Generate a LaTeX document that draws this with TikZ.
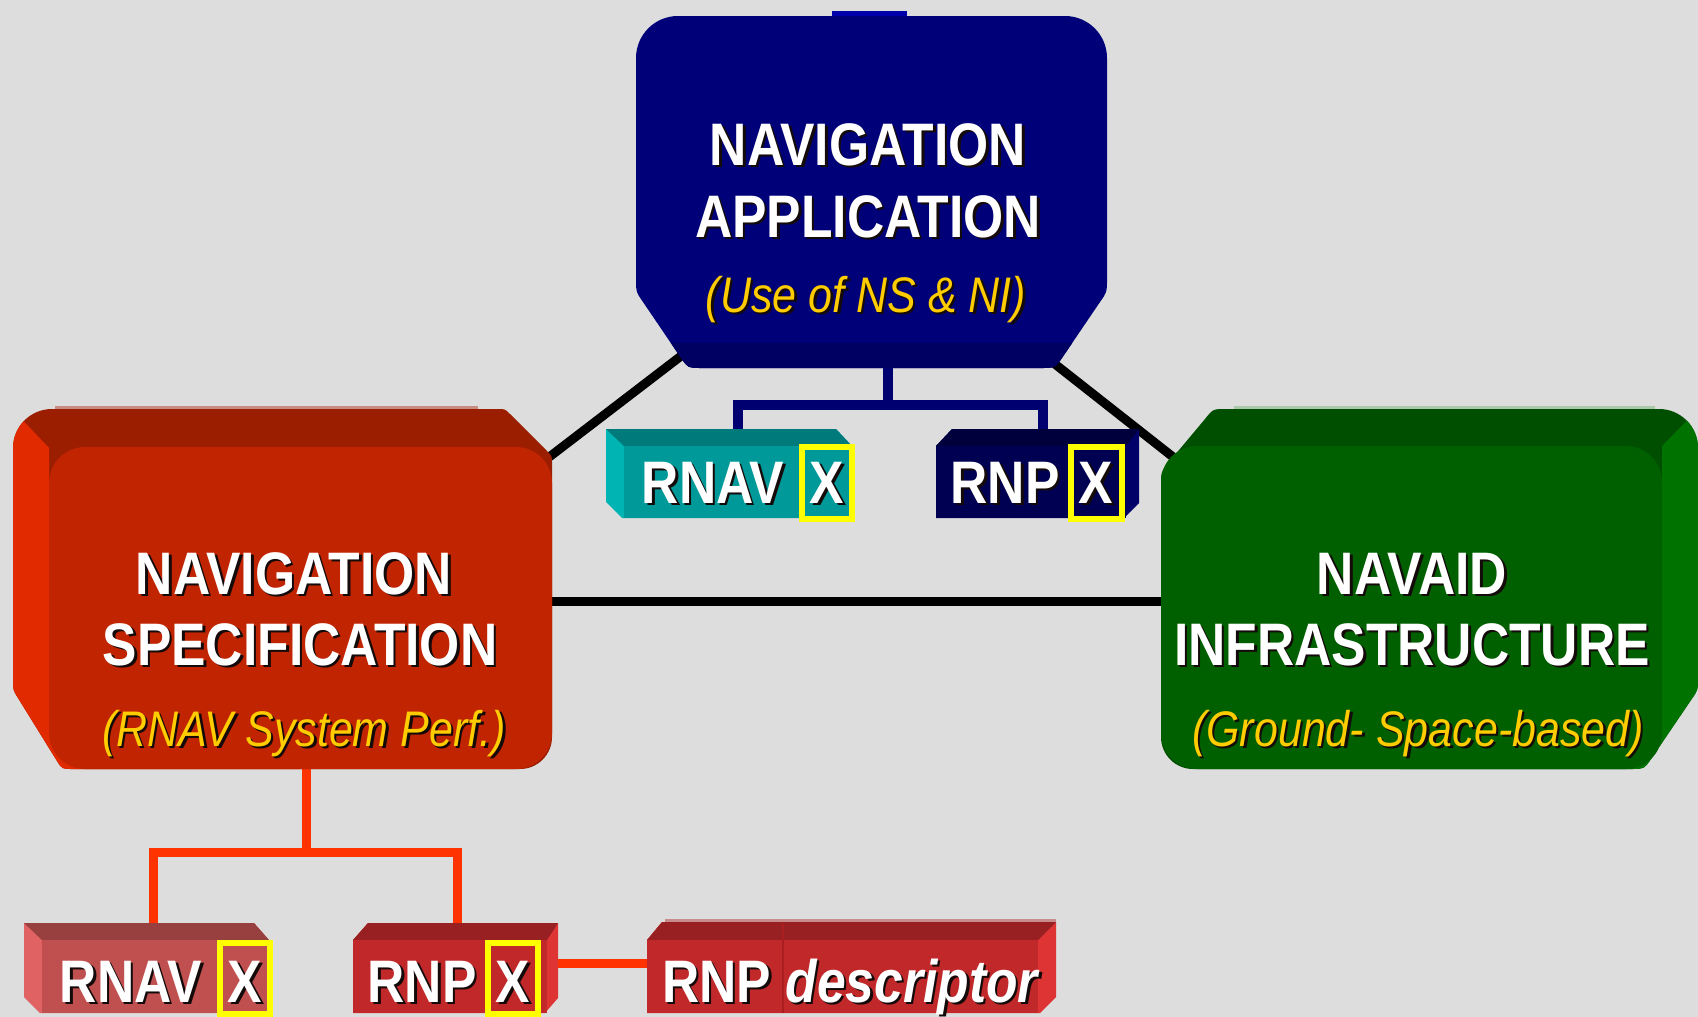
\documentclass[tikz,border=0pt]{standalone}
\usepackage{fontspec}
\setmainfont{Liberation Sans}[FakeStretch=0.86]
\definecolor{colBG}{RGB}{221,221,221}
\definecolor{colNA}{RGB}{0,0,120}
\definecolor{colNAb}{RGB}{0,0,98}
\definecolor{colNAtab}{RGB}{0,0,170}
\definecolor{colRF}{RGB}{192,36,0}
\definecolor{colRT}{RGB}{155,30,0}
\definecolor{colRS}{RGB}{226,42,0}
\definecolor{colRH}{RGB}{200,140,130}
\definecolor{colGF}{RGB}{0,96,0}
\definecolor{colGT}{RGB}{0,78,0}
\definecolor{colGS}{RGB}{0,114,0}
\definecolor{colGH}{RGB}{170,200,170}
\definecolor{colTF}{RGB}{0,153,153}
\definecolor{colTT}{RGB}{0,122,122}
\definecolor{colTS}{RGB}{0,180,180}
\definecolor{colDF}{RGB}{0,0,82}
\definecolor{colDT}{RGB}{0,0,60}
\definecolor{colDS}{RGB}{0,0,105}
\definecolor{colLF}{RGB}{192,80,80}
\definecolor{colLT}{RGB}{152,64,64}
\definecolor{colLS}{RGB}{224,98,98}
\definecolor{colPF}{RGB}{192,40,42}
\definecolor{colPT}{RGB}{152,32,34}
\definecolor{colPS}{RGB}{222,52,52}
\definecolor{colPD}{RGB}{170,30,32}
\definecolor{colPH}{RGB}{200,140,140}
\definecolor{colYel}{RGB}{255,255,0}
\definecolor{colSub}{RGB}{255,204,0}
\definecolor{colShd}{RGB}{20,10,10}
\definecolor{colBcon}{RGB}{0,0,112}
\definecolor{colRcon}{RGB}{255,51,0}

\newcommand\txtsh[1]{\leavevmode\rlap{\kern2.5pt\raisebox{-2.5pt}{\textcolor{colShd}{#1}}}#1}

\tikzset{
 lblbig/.style={font=\fontsize{60}{60}\selectfont\bfseries, text=white, inner sep=0pt, anchor=base},
 lblsub/.style={font=\fontsize{50}{50}\selectfont\itshape, text=colSub, inner sep=0pt, anchor=base},
 blackcon/.style={draw=black, line width=9pt},
 bluecon/.style={draw=colBcon, line width=10pt},
 redcon/.style={draw=colRcon, line width=9pt},
 xbox/.style={draw=colYel, line width=6pt},
}

\begin{document}
\begin{tikzpicture}[x=1pt,y=-1pt]
\fill[colBG] (0,0) rectangle (1698,1017);
\useasboundingbox (0,0) rectangle (1698,1017);

% attachment points
\coordinate (naSW) at (698,343);
\coordinate (nsNE) at (514,484);
\coordinate (naSE) at (1032,346);
\coordinate (niNW) at (1201,479);
\coordinate (nsE) at (540,601);
\coordinate (niW) at (1170,601);
\coordinate (naB) at (888,360);
\coordinate (naJ) at (888,405);
\coordinate (rnavT) at (738,440);
\coordinate (rnpT) at (1043,440);
\coordinate (nsB) at (306,760);
\coordinate (nsJ) at (306,852);
\coordinate (brnavT) at (153,935);
\coordinate (brnpT) at (457,935);
\coordinate (brnpR) at (530,963);
\coordinate (descL) at (655,963);

% connectors
\draw[blackcon] (naSW) -- (nsNE);
\draw[blackcon] (naSE) -- (niNW);
\draw[blackcon] (nsE) -- (niW);
\draw[bluecon] (naB) -- (naJ) -| (rnavT);
\draw[bluecon] (naJ) -| (rnpT);
\draw[redcon] (nsB) -- (nsJ) -| (brnavT);
\draw[redcon] (nsJ) -| (brnpT);
\draw[redcon] (brnpR) -- (descL);

% NAVIGATION APPLICATION box
\fill[colNAtab] (832,11) rectangle (907,18);
\fill[colNA] (871,368) -- (700,368) .. controls (688,368) .. (681,358) -- (643,302) .. controls (636,292) .. (636,280) -- (636,58) arc (180:270:42) -- (1065,16) arc (270:360:42) -- (1107,280) .. controls (1107,292) .. (1100,302) -- (1062,358) .. controls (1055,368) .. (1043,368) -- cycle;
\begin{scope}
\clip (871,368) -- (700,368) .. controls (688,368) .. (681,358) -- (643,302) .. controls (636,292) .. (636,280) -- (636,58) arc (180:270:42) -- (1065,16) arc (270:360:42) -- (1107,280) .. controls (1107,292) .. (1100,302) -- (1062,358) .. controls (1055,368) .. (1043,368) -- cycle;
\fill[colNAb] (600,343) rectangle (1150,380);
\end{scope}

% NAVIGATION SPECIFICATION box
\fill[colRT] (300,769) -- (72,769) .. controls (62,769) .. (57,761) -- (18,698) .. controls (13,690) .. (13,680) -- (13,448) arc (180:270:39) -- (498,409) .. controls (505,409) .. (510,414) -- (547,451) .. controls (552,456) .. (552,463) -- (552,737) arc (0:90:32) -- cycle;
\begin{scope}
\clip (300,769) -- (72,769) .. controls (62,769) .. (57,761) -- (18,698) .. controls (13,690) .. (13,680) -- (13,448) arc (180:270:39) -- (498,409) .. controls (505,409) .. (510,414) -- (547,451) .. controls (552,456) .. (552,463) -- (552,737) arc (0:90:32) -- cycle;
\fill[colRS] (49,448) -- (0,396) -- (0,800) -- (300,800) -- (300,700) -- (49,700) -- cycle;
\end{scope}
\fill[colRF, rounded corners=36pt] (49,447) rectangle (552,769);
\draw[colRH, line width=3pt] (55,407) -- (478,407);

% NAVAID INFRASTRUCTURE box
\fill[colGT] (1400,769) -- (1193,769) arc (90:180:32) -- (1161,485) .. controls (1161,472) .. (1169,462) -- (1205,419) .. controls (1213,409) .. (1226,409) -- (1659,409) arc (270:360:39) -- (1698,678) .. controls (1698,690) .. (1691,700) -- (1651,759) .. controls (1644,769) .. (1632,769) -- cycle;
\begin{scope}
\clip (1400,769) -- (1193,769) arc (90:180:32) -- (1161,485) .. controls (1161,472) .. (1169,462) -- (1205,419) .. controls (1213,409) .. (1226,409) -- (1659,409) arc (270:360:39) -- (1698,678) .. controls (1698,690) .. (1691,700) -- (1651,759) .. controls (1644,769) .. (1632,769) -- cycle;
\fill[colGS] (1662,446) -- (1711,396) -- (1711,800) -- (1400,800) -- (1400,700) -- (1662,700) -- cycle;
\end{scope}
\fill[colGF, rounded corners=36pt] (1161,446) rectangle (1662,769);
\draw[colGH, line width=3pt] (1234,407) -- (1655,407);

% top RNAV X (teal)
\fill[colTS] (606,429) -- (836,429) -- (852,446) -- (852,518) -- (622,518) -- (606,502) -- cycle;
\fill[colTT] (606,429) -- (836,429) -- (852,446) -- (624,446) -- cycle;
\fill[colTF] (624,446) rectangle (852,518);
\draw[xbox] (802,447) rectangle (852,519);

% top RNP X (dark navy)
\fill[colDS] (936,446) -- (952,429) -- (1139,429) -- (1139,503) -- (1124,518) -- (936,518) -- cycle;
\fill[colDT] (936,446) -- (952,429) -- (1139,429) -- (1126,446) -- cycle;
\fill[colDF] (936,446) rectangle (1126,518);
\draw[xbox] (1071,447) rectangle (1122,519);

% bottom RNAV X (light red)
\fill[colLS] (24,923) -- (254,923) -- (269,940) -- (269,1013) -- (40,1013) -- (24,997) -- cycle;
\fill[colLT] (24,923) -- (254,923) -- (269,940) -- (42,940) -- cycle;
\fill[colLF] (42,940) rectangle (269,1013);
\draw[xbox] (220,943) rectangle (270,1014);

% bottom RNP X (red)
\fill[colPS] (353,940) -- (368,923) -- (558,923) -- (558,998) -- (545,1013) -- (353,1013) -- cycle;
\fill[colPT] (353,940) -- (368,923) -- (558,923) -- (547,940) -- cycle;
\fill[colPF] (353,940) rectangle (547,1013);
\draw[xbox] (488,943) rectangle (538,1014);

% RNP descriptor
\fill[colPS] (647,940) -- (662,922) -- (1056,922) -- (1056,997) -- (1040,1013) -- (647,1013) -- cycle;
\fill[colPT] (647,940) -- (662,922) -- (1056,922) -- (1038,940) -- cycle;
\fill[colPF] (647,940) rectangle (1038,1013);
\draw[colPD, line width=1.5pt] (783,923) -- (783,1013);
\draw[colPH, line width=3pt] (665,920.5) -- (1056,920.5);

% texts
\node[lblbig] (naT1) at (868,165) {\txtsh{NAVIGATION}};
\node[lblbig] (naT2) at (868,237) {\txtsh{APPLICATION}};
\node[lblsub] (naT3) at (866,312) {\txtsh{(Use of NS \& NI)}};

\node[lblbig] (nsT1) at (294,594) {\txtsh{NAVIGATION}};
\node[lblbig] (nsT2) at (300,665) {\txtsh{SPECIFICATION}};
\node[lblsub] (nsT3) at (304,746) {\txtsh{(RNAV System Perf.)}};

\node[lblbig] (niT1) at (1412,594) {\txtsh{NAVAID}};
\node[lblbig] (niT2) at (1412,665) {\txtsh{INFRASTRUCTURE}};
\node[lblsub] (niT3) at (1418,746) {\txtsh{(Ground- Space-based)}};

\node[lblbig] (trnav) at (713,503) {\txtsh{RNAV}};
\node[lblbig] (trnavx) at (827,503) {\txtsh{X}};
\node[lblbig] (trnp) at (1005,503) {\txtsh{RNP}};
\node[lblbig] (trnpx) at (1096,503) {\txtsh{X}};

\node[lblbig] (brnav) at (131,1002) {\txtsh{RNAV}};
\node[lblbig] (brnavx) at (245,1002) {\txtsh{X}};
\node[lblbig] (brnp) at (422,1002) {\txtsh{RNP}};
\node[lblbig] (brnpx) at (513,1002) {\txtsh{X}};
\node[lblbig, anchor=base west] (desc) at (662,1002) {\txtsh{RNP} \txtsh{\itshape descriptor}};
\end{tikzpicture}
\end{document}
